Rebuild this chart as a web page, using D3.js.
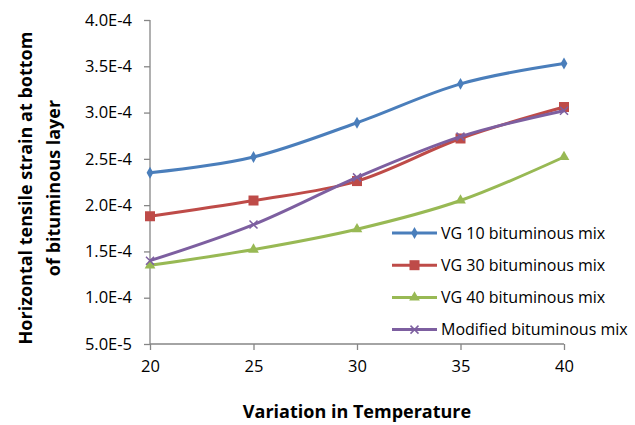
<!DOCTYPE html>
<html>
<head>
<meta charset="utf-8">
<script src="https://cdn.jsdelivr.net/npm/d3@7"></script>
<style>
  body { margin: 0; background: #fff; }
  text { font-family: "Open Sans", "Liberation Sans", sans-serif; fill: #000; }
</style>
</head>
<body>
<svg id="chart"></svg>
<script>
// data
const temps = [20, 25, 30, 35, 40];
const vg10 = [2.35e-4, 2.52e-4, 2.89e-4, 3.31e-4, 3.53e-4];
const vg30 = [1.88e-4, 2.05e-4, 2.26e-4, 2.72e-4, 3.06e-4];
const vg40 = [1.35e-4, 1.52e-4, 1.74e-4, 2.05e-4, 2.52e-4];
const modified = [1.40e-4, 1.79e-4, 2.30e-4, 2.74e-4, 3.02e-4];
const yTicks = [5e-5, 1e-4, 1.5e-4, 2e-4, 2.5e-4, 3e-4, 3.5e-4, 4e-4];
const xTicks = [20, 25, 30, 35, 40];

const series = [
  { name: "VG 10 bituminous mix", values: vg10, color: "#4a7ebb", marker: "diamond" },
  { name: "VG 30 bituminous mix", values: vg30, color: "#be4b48", marker: "square" },
  { name: "VG 40 bituminous mix", values: vg40, color: "#98b954", marker: "triangle" },
  { name: "Modified bituminous mix", values: modified, color: "#7d5fa0", marker: "x" }
];

const W = 635, H = 425;
const svg = d3.select("#chart").attr("width", W).attr("height", H);

const x = d3.scaleLinear().domain([20, 40]).range([150, 564]);
const y = d3.scaleLinear().domain([5e-5, 4e-4]).range([344, 20]);

const axisColor = "#868686";

// y axis
const yAxis = svg.append("g")
  .attr("transform", "translate(150,0)")
  .call(d3.axisLeft(y).tickValues(yTicks).tickSize(6).tickPadding(12)
    .tickFormat(d => d3.format(".1e")(d).replace("e", "E").replace("+", "")));
yAxis.selectAll("text").style("font-size", "16.5px");

// x axis
const xAxis = svg.append("g")
  .attr("transform", "translate(0,344)")
  .call(d3.axisBottom(x).tickValues(xTicks).tickSize(6).tickPadding(10));
xAxis.selectAll("text").style("font-size", "16.5px");

svg.selectAll(".domain, .tick line").attr("stroke", axisColor).attr("stroke-width", 1.3);

// plain domain lines, no end caps
yAxis.select(".domain").attr("d", `M0,${y(4e-4)}V${y(5e-5)}`);
xAxis.select(".domain").attr("d", `M${x(20)},0H${x(40)}`);

// marker drawing
function drawMarker(g, type, cx, cy, color) {
  if (type === "diamond") {
    g.append("path").attr("d", d3.symbol(d3.symbolDiamond, 40)())
      .attr("transform", `translate(${cx},${cy})`).attr("fill", color);
  } else if (type === "square") {
    g.append("rect").attr("x", cx - 5).attr("y", cy - 5).attr("width", 10).attr("height", 10)
      .attr("fill", color);
  } else if (type === "triangle") {
    g.append("path").attr("d", d3.symbol(d3.symbolTriangle, 50)())
      .attr("transform", `translate(${cx},${cy})`).attr("fill", color);
  } else {
    g.append("path").attr("d", `M${cx - 4},${cy - 4}L${cx + 4},${cy + 4}M${cx - 4},${cy + 4}L${cx + 4},${cy - 4}`)
      .attr("stroke", color).attr("stroke-width", 1.5);
  }
}

const line = d3.line()
  .x((d, i) => x(temps[i]))
  .y(d => y(d))
  .curve(d3.curveCardinal.tension(0));

series.forEach(s => {
  const g = svg.append("g");
  g.append("path").datum(s.values)
    .attr("d", line)
    .attr("fill", "none")
    .attr("stroke", s.color)
    .attr("stroke-width", 3);
  s.values.forEach((v, i) => drawMarker(g, s.marker, x(temps[i]), y(v), s.color));
});

// legend
const legend = svg.append("g");
series.forEach((s, i) => {
  const ly = 233 + i * 32.2;
  legend.append("line").attr("x1", 392).attr("x2", 437).attr("y1", ly).attr("y2", ly)
    .attr("stroke", s.color).attr("stroke-width", 3);
  drawMarker(legend, s.marker, 414.5, ly, s.color);
  legend.append("text").attr("x", 441).attr("y", ly).attr("dy", "0.35em")
    .style("font-size", "16px").text(s.name);
});

// axis titles
svg.append("text")
  .attr("x", 357).attr("y", 418)
  .attr("text-anchor", "middle")
  .style("font-size", "18px").style("font-weight", "bold")
  .text("Variation in Temperature");

const yTitle = svg.append("text")
  .attr("transform", "translate(0,188) rotate(-90)")
  .attr("text-anchor", "middle")
  .style("font-size", "18px").style("font-weight", "bold");
yTitle.append("tspan").attr("x", 0).attr("y", 32).text("Horizontal tensile  strain at bottom");
yTitle.append("tspan").attr("x", 0).attr("y", 60).text("of bituminous layer");
</script>
</body>
</html>
